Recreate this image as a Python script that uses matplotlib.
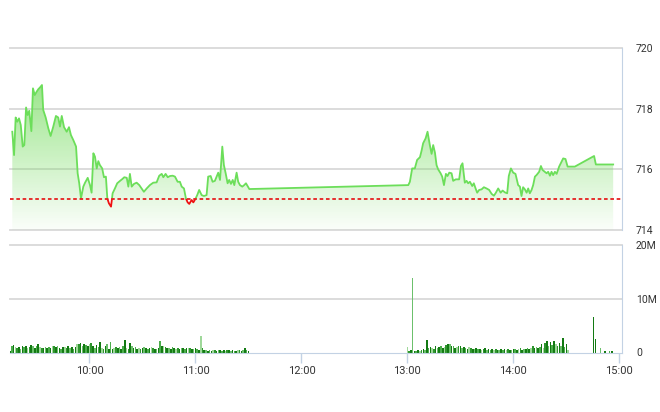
import numpy as np
import matplotlib
matplotlib.use("Agg")
import matplotlib.pyplot as plt
from matplotlib.patches import Rectangle

# time axis: minutes after 9:15
session_start = 9 * 60 + 15
ref_price = 715.02

am_t = [1.3, 2.3, 3.2, 4.1, 5.1, 6.1, 7.2, 8.1, 9.1, 10.0,
        10.9, 12.1, 13.0, 14.0, 15.1, 16.0, 17.0, 18.1, 18.8, 20.2,
        21.7, 23.0, 24.5, 26.0, 27.3, 28.3, 29.3, 30.6, 32.1, 33.4,
        34.5, 35.8, 37.4, 38.3, 39.2, 40.2, 41.5, 42.5, 44.0, 45.3,
        46.2, 47.2, 48.1, 49.1, 50.0, 50.9, 52.2, 53.2, 54.3, 55.1,
        56.0, 57.2, 58.1, 59.4, 60.7, 62.3, 63.6, 64.7, 66.1, 67.0,
        67.9, 68.9, 70.2, 71.7, 73.2, 74.5, 75.8, 77.4, 79.2, 81.1,
        83.0, 84.5, 85.9, 86.8, 88.1, 89.3, 90.6, 92.1, 93.4, 94.9,
        96.2, 97.2, 98.5, 99.6, 100.6, 101.5, 102.8, 103.8, 105.1, 106.0,
        107.1, 108.5, 109.8, 111.3, 112.2, 113.6, 114.7, 116.0, 117.0, 117.9,
        118.9, 120.2, 121.1, 122.1, 123.2, 124.1, 125.1, 126.1, 127.0, 128.3,
        129.2, 130.2, 131.5, 132.6, 133.6, 135.5]
am_v = [717.24, 716.47, 717.71, 717.57, 717.68, 717.46, 716.75, 716.80, 718.04, 717.79,
        717.93, 717.26, 718.67, 718.45, 718.56, 718.64, 718.70, 718.78, 717.96, 717.71,
        717.35, 717.10, 717.41, 717.76, 717.71, 717.41, 717.76, 717.39, 717.24, 717.39,
        717.13, 716.97, 716.75, 715.87, 715.54, 715.04, 715.43, 715.56, 715.72, 715.48,
        715.23, 716.53, 716.42, 716.03, 716.27, 716.14, 716.03, 715.74, 715.76, 715.04,
        714.88, 714.77, 715.21, 715.37, 715.54, 715.62, 715.68, 715.74, 715.72, 715.43,
        715.85, 715.43, 715.52, 715.56, 715.48, 715.37, 715.26, 715.37, 715.48, 715.56,
        715.57, 715.79, 715.85, 715.74, 715.85, 715.74, 715.78, 715.79, 715.76, 715.59,
        715.59, 715.43, 715.37, 715.04, 714.91, 714.86, 714.99, 714.91, 715.04, 715.15,
        715.32, 715.15, 715.12, 715.15, 715.76, 715.78, 715.59, 715.62, 715.76, 715.89,
        715.65, 716.75, 716.14, 715.87, 715.54, 715.65, 715.52, 715.65, 715.48, 715.89,
        715.59, 715.48, 715.43, 715.48, 715.54, 715.35]

pm_t = [225.5, 226.4, 227.7, 229.2, 230.5, 232.1, 233.0, 233.9, 235.3, 236.4,
        237.7, 238.7, 239.6, 240.6, 241.5, 242.4, 243.8, 244.7, 245.7, 246.8,
        247.7, 248.7, 250.0, 250.9, 252.4, 254.3, 255.3, 256.2, 257.5, 258.5,
        259.4, 260.4, 261.7, 262.6, 263.6, 264.5, 265.6, 267.0, 268.3, 269.8,
        271.3, 272.7, 274.0, 275.1, 276.4, 277.8, 278.9, 280.2, 281.5, 282.4,
        283.6, 284.9, 286.2, 287.7, 288.7, 289.6, 290.5, 291.5, 292.5, 293.4,
        294.3, 295.3, 296.2, 297.2, 298.1, 299.6, 300.6, 301.5, 302.8, 303.8,
        304.7, 305.7, 306.6, 307.5, 308.5, 309.5, 310.9, 312.3, 313.2, 314.5,
        315.7, 319.8, 330.7, 331.7, 341.5]
pm_v = [715.48, 715.59, 716.03, 716.03, 716.31, 716.40, 716.61, 716.86, 717.02, 717.24,
        716.80, 716.51, 716.80, 716.55, 716.14, 716.00, 715.87, 715.76, 715.48, 715.85,
        715.78, 715.89, 715.87, 715.62, 715.67, 715.67, 716.11, 716.20, 715.56, 715.62,
        715.54, 715.59, 715.45, 715.54, 715.37, 715.23, 715.32, 715.34, 715.41, 715.37,
        715.32, 715.19, 715.13, 715.23, 715.37, 715.23, 715.30, 715.24, 715.21, 715.78,
        716.03, 715.89, 715.85, 715.48, 715.43, 715.12, 715.41, 715.34, 715.23, 715.37,
        715.21, 715.32, 715.48, 715.76, 715.81, 715.92, 716.11, 715.98, 715.92, 715.87,
        715.92, 715.79, 715.92, 715.81, 715.92, 715.85, 716.09, 716.25, 716.36, 716.34,
        716.09, 716.09, 716.44, 716.16, 716.16]

# volume in millions, one bar per minute
am_vol_start = 0
am_vol = [0.3, 1.3, 1.4, 1.0, 0.8, 1.1, 0.7, 1.2, 1.0, 1.3,
          0.9, 1.1, 1.4, 1.2, 0.8, 1.3, 1.5, 1.1, 0.9, 0.8,
          1.0, 0.9, 1.1, 0.8, 1.2, 1.3, 1.0, 1.2, 0.9, 0.7,
          1.1, 1.0, 0.8, 1.2, 0.9, 1.0, 0.7, 1.1, 1.6, 1.5,
          1.7, 1.3, 1.6, 1.4, 1.2,
          1.5, 1.8, 1.2, 0.9, 1.4, 1.0, 1.9, 0.8, 0.6, 1.3,
          1.5, 0.7, 2.0, 0.6, 0.9, 1.1, 0.8, 1.0, 0.7, 1.2,
          2.4, 0.8, 0.6, 1.7, 1.3, 0.9, 1.0, 0.7, 0.8, 0.6,
          0.9, 1.0, 0.8, 0.7, 0.9, 1.0, 0.8, 0.6, 0.7, 0.9,
          2.2, 1.3, 1.2, 1.0, 0.8, 0.9,
          0.7, 1.0, 0.8, 0.6, 0.9, 0.7, 0.8, 0.9, 0.7, 0.8,
          0.9, 0.8, 0.7, 0.6, 0.8, 0.7, 0.4, 3.0, 0.9, 0.5,
          0.4, 0.3, 0.4, 0.3, 0.5, 0.4, 0.3, 0.4, 0.5, 0.3,
          0.4, 0.3, 0.5, 0.4, 0.3, 0.4, 0.3, 0.3, 0.4, 0.5,
          0.3, 0.4, 0.8, 0.4, 0.3]
pm_vol_start = 225
pm_vol = [1.1, 0.3, 0.4, 13.9, 0.3, 0.2, 0.4, 0.3, 0.5, 0.6,
          0.4, 2.3, 0.8, 1.1, 0.9, 0.7, 1.3, 0.8, 1.0, 1.2,
          0.9, 1.1, 1.4, 1.6, 1.5, 1.2, 1.3, 0.9, 1.0, 1.3,
          1.2, 0.8, 1.1, 0.9, 0.7, 1.0, 0.8, 0.6, 0.7, 0.9,
          0.6, 0.7, 0.5, 0.6, 0.8, 0.5, 0.6, 0.4, 0.7, 0.5,
          0.6, 0.5, 0.4, 0.6, 0.5, 0.7, 0.5, 0.6, 0.4, 0.5,
          0.6, 0.7, 0.5, 0.6, 0.8, 0.5, 0.7, 0.6, 0.9, 0.7,
          0.8, 1.3, 0.9, 1.0, 0.8, 1.1, 1.5, 0.9, 1.8, 2.2,
          1.2, 1.9, 1.4, 2.1, 1.6, 1.2, 1.8, 1.3, 2.7, 1.0,
          1.6, 0.4]
close_t = [330.3, 331.5, 334.4, 337.0, 339.4, 341.0]
close_vol = [6.6, 2.5, 0.8, 0.2, 0.3, 0.2]

price_ticks = [714, 716, 718, 720]
vol_ticks = [0, 10, 20]
vol_labels = ["0", "10M", "20M"]
time_labels = ["10:00", "11:00", "12:00", "13:00", "14:00", "15:00"]


def main():
    plt.rcParams['font.family'] = ['Roboto', 'DejaVu Sans']

    t = np.array(am_t + pm_t) + session_start
    v = np.array(am_v + pm_v)
    x0, x1 = session_start, session_start + 346.5

    fig = plt.figure(figsize=(6.6, 4.12), dpi=100)
    ax = fig.add_axes([10 / 660, (412 - 230) / 412, 612 / 660, 182 / 412])
    axv = fig.add_axes([10 / 660, (412 - 352.5) / 412, 612 / 660, 107.5 / 412])

    grid_c = '#d9d9d9'
    edge_c = '#c3d2e4'
    text_c = '#333333'

    # price panel
    ax.set_xlim(x0, x1)
    ax.set_ylim(714, 720)
    for p in price_ticks:
        ax.axhline(p, color=grid_c, lw=1.3, clip_on=False, zorder=0)

    # gradient under the line
    poly = ax.fill_between(t, v, 714, color='none', lw=0)
    yy = np.linspace(714, 720, 256)
    grad = np.zeros((256, 1, 4))
    grad[:, 0, 0] = 0.45
    grad[:, 0, 1] = 0.86
    grad[:, 0, 2] = 0.36
    grad[:, 0, 3] = 0.03 + 0.14 * (yy - 714)
    im = ax.imshow(grad, extent=[x0, x1, 714, 720], origin='lower',
                   aspect='auto', zorder=1)
    im.set_clip_path(poly.get_paths()[0], ax.transData)

    up, = ax.plot(t, v, color='#6cde5a', lw=1.3, zorder=3)
    up.set_clip_path(Rectangle((x0, ref_price), 400, 10, transform=ax.transData))
    dn, = ax.plot(t, v, color='#ee1111', lw=1.3, zorder=3)
    dn.set_clip_path(Rectangle((x0, ref_price - 10), 400, 10, transform=ax.transData))

    ax.axhline(ref_price, color='#e52020', lw=1.3, dashes=(2, 1.5), zorder=4)

    for s in ['top', 'left', 'bottom']:
        ax.spines[s].set_visible(False)
    ax.spines['right'].set_color(edge_c)
    ax.set_xticks([])
    ax.yaxis.tick_right()
    ax.set_yticks(price_ticks)
    ax.tick_params(axis='y', length=0, pad=10, labelsize=7.5, labelcolor=text_c)

    # volume panel
    colors = ['#137a13', '#4cae4c', '#137a13', '#9fd89a', '#2e952e', '#137a13', '#6cc06c']
    vt = [am_vol_start + i for i in range(len(am_vol))] + \
         [pm_vol_start + i for i in range(len(pm_vol))] + close_t
    vv = am_vol + pm_vol + close_vol
    bar_c = [colors[i % len(colors)] for i in range(len(vv))]
    bar_c[len(am_vol) + 3] = '#6cc06c'
    bar_c[len(am_vol) + len(pm_vol)] = '#137a13'
    axv.bar(np.array(vt) + session_start, vv, width=0.9, color=bar_c, lw=0, zorder=2)

    axv.set_xlim(x0, x1)
    axv.set_ylim(0, 20)
    for p in [10, 20]:
        axv.axhline(p, color=grid_c, lw=1.3, clip_on=False, zorder=0)
    for s in ['top', 'left']:
        axv.spines[s].set_visible(False)
    axv.spines['right'].set_color(edge_c)
    axv.spines['bottom'].set_color(edge_c)
    axv.yaxis.tick_right()
    axv.set_yticks(vol_ticks)
    axv.set_yticklabels(vol_labels)
    axv.tick_params(axis='y', length=0, pad=10, labelsize=7.5, labelcolor=text_c)
    axv.set_xticks([600 + 60 * i for i in range(len(time_labels))])
    axv.set_xticklabels(time_labels)
    axv.tick_params(axis='x', length=7, width=1, color=edge_c, pad=3,
                    labelsize=8, labelcolor=text_c)

    fig.savefig("out.png", dpi=100)


if __name__ == "__main__":
    main()
